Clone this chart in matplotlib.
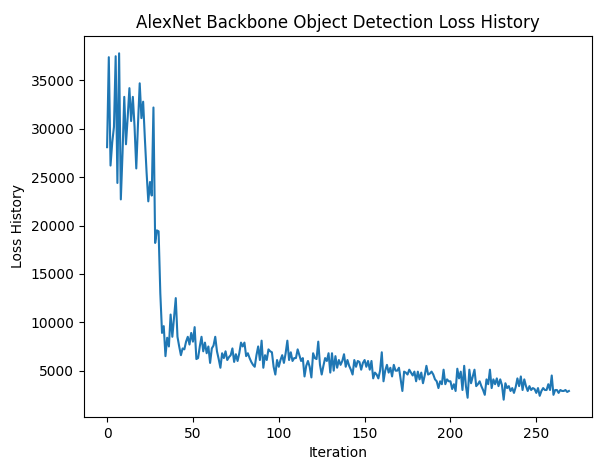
import numpy as np
import matplotlib
matplotlib.use('Agg')
import matplotlib.pyplot as plt

# loss values, one per iteration
loss_0_49 = [28100, 37400, 26200, 28600, 30200, 37500, 24400, 37800, 22700, 27500,
             33300, 28400, 31200, 34200, 30800, 33300, 30200, 25900, 30500, 34700,
             31100, 32800, 29000, 25500, 22500, 24500, 23100, 32200, 18200, 19500,
             19400, 13000, 8900, 9600, 6500, 8400, 7500, 10800, 8500, 10500,
             12500, 8500, 7500, 6600, 7300, 7200, 8000, 8500, 7700, 8900]
loss_50_99 = [8000, 9500, 6200, 6300, 7500, 8500, 7000, 7900, 6800, 7500,
              5800, 7300, 7600, 8500, 7000, 6200, 5300, 6800, 6300, 7000,
              6100, 6400, 6600, 7300, 5900, 6700, 6000, 6800, 7900, 7500,
              7900, 6500, 6800, 6300, 5900, 5600, 5400, 6600, 7500, 6100,
              8100, 5300, 6600, 6100, 7200, 7000, 6900, 5400, 4600, 6100]
loss_100_149 = [5400, 6100, 6600, 5800, 6800, 8100, 6100, 6900, 6000, 6300,
                6300, 7200, 6600, 6000, 6300, 4400, 5500, 6000, 5400, 4300,
                6800, 6300, 6200, 8000, 5600, 4600, 5500, 6300, 6000, 6800,
                4800, 6800, 5000, 6500, 5300, 6100, 5600, 6000, 6700, 5400,
                6100, 5500, 5100, 4600, 6100, 5400, 6000, 5900, 5100, 5800]
loss_150_199 = [6100, 5400, 6000, 5100, 6000, 4200, 4800, 4600, 4200, 5000,
                6900, 3900, 5000, 5600, 4800, 5300, 4400, 5600, 5000, 5000,
                5300, 4100, 2900, 4900, 4800, 4600, 5100, 4800, 4500, 4900,
                3900, 4900, 4100, 4800, 3700, 4500, 5500, 4600, 4700, 4900,
                4600, 4100, 3900, 3200, 3900, 3600, 5100, 3600, 4100, 3900]
loss_200_269 = [3900, 3100, 3600, 2900, 5200, 4200, 4900, 3000, 5500, 3400,
                2200, 5100, 3700, 4400, 5100, 3400, 3600, 3900, 3400, 3000,
                2500, 4100, 3600, 5100, 3200, 4100, 3600, 4200, 3400, 4100,
                3500, 2000, 3700, 3200, 3400, 2900, 3200, 2700, 3300, 4200,
                3400, 4400, 3000, 4100, 3400, 2900, 3400, 3000, 3200, 3100,
                2700, 3200, 2400, 2900, 3200, 3000, 3000, 3600, 3000, 4500,
                2500, 3000, 3000, 2700, 3000, 2900, 2900, 3000, 2800, 2900]

loss = np.array(loss_0_49 + loss_50_99 + loss_100_149 + loss_150_199 + loss_200_269)

fig = plt.figure(figsize=(5.97, 4.62), dpi=100)
ax = fig.add_subplot(111)
fig.subplots_adjust(left=84/597, right=592/597, top=1-36/462, bottom=1-417/462)

ax.plot(loss)
ax.set_title('AlexNet Backbone Object Detection Loss History')
ax.set_xlabel('Iteration')
ax.set_ylabel('Loss History')

fig.savefig('out.png', dpi=100)
